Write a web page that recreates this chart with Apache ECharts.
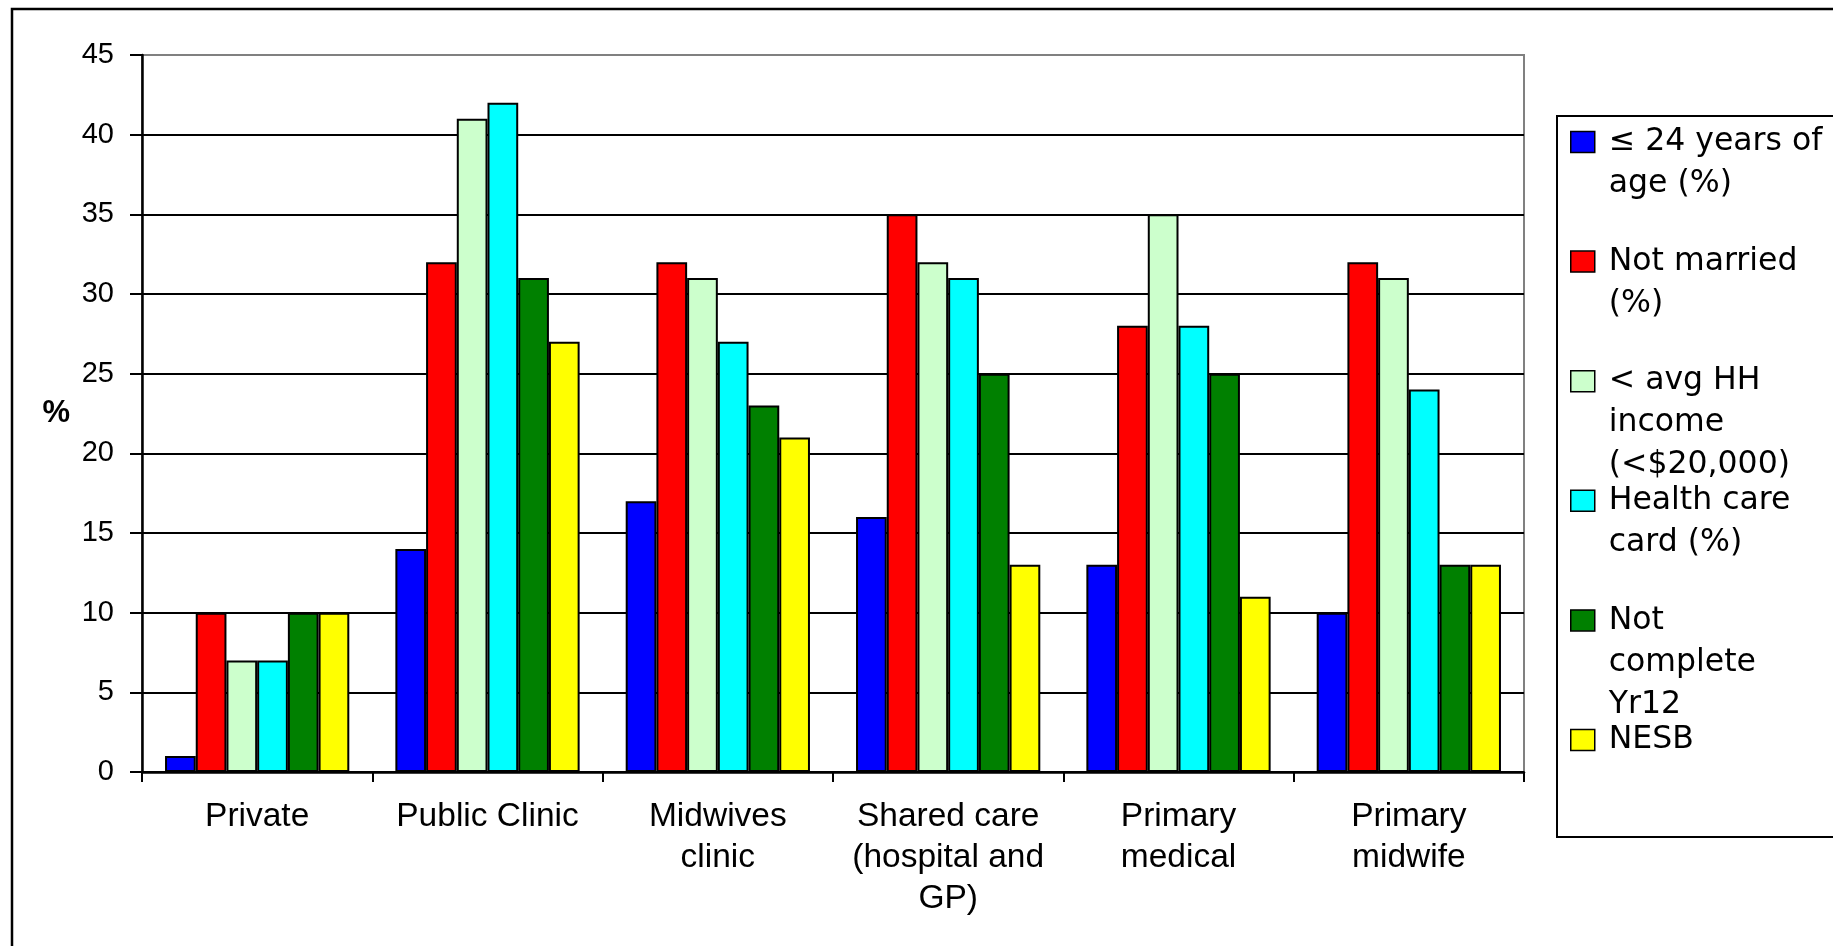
<!DOCTYPE html>
<html>
<head>
<meta charset="utf-8">
<script src="https://cdn.jsdelivr.net/npm/echarts@6/dist/echarts.min.js"></script>
<style>
  html, body { margin: 0; padding: 0; background: #ffffff; }
  #chart { width: 1833px; height: 946px; }
</style>
</head>
<body>
<div id="chart"></div>
<script>
// Model of care categories (tick labels, wrapped as printed)
const categories = ['Private', 'Public Clinic', 'Midwives\nclinic', 'Shared care\n(hospital and\nGP)', 'Primary\nmedical', 'Primary\nmidwife'];

// Series names and their wrapped legend text
const seriesNames = ['≤ 24 years of age (%)', 'Not married (%)', '< avg HH income (<$20,000)', 'Health care card (%)', 'Not complete Yr12', 'NESB'];
const legendLines = [
  ['≤ 24 years of', 'age (%)'],
  ['Not married', '(%)'],
  ['< avg HH', 'income', '(<$20,000)'],
  ['Health care', 'card (%)'],
  ['Not', 'complete', 'Yr12'],
  ['NESB']
];
const seriesColors = ['#0000ff', '#ff0000', '#ccffcc', '#00ffff', '#008000', '#ffff00'];

// Percentages per category, one array per series
const youngAge   = [1, 14, 17, 16, 13, 10];
const notMarried = [10, 32, 32, 35, 28, 32];
const lowIncome  = [7, 41, 31, 32, 35, 31];
const healthCard = [7, 42, 27, 31, 28, 24];
const noYear12   = [10, 31, 23, 25, 25, 13];
const nesb       = [10, 27, 21, 13, 11, 13];

// Value axis ticks
const yMin = 0;
const yMax = 45;
const yStep = 5;

const seriesData = [youngAge, notMarried, lowIncome, healthCard, noYear12, nesb];

const FONT = '"Liberation Sans", Arial, Helvetica, sans-serif';
const LEGEND_FONT = '"DejaVu Sans", "Liberation Sans", Arial, sans-serif';
const LINE_H = 42;          // legend line height
const FIRST_MARK = 142;     // centre of the first legend swatch
const MARK_STEP = 119.6;    // distance between legend swatches

const chart = echarts.init(document.getElementById('chart'), null, { renderer: 'canvas' });

// One legend block per series so every swatch sits on a fixed pitch.
// Legend text is centred on its swatch, so blank lines are put in front
// of the wrapped text to bring the first line level with the swatch.
const legends = seriesNames.map((name, i) => {
  const n = legendLines[i].length;
  const centre = FIRST_MARK + MARK_STEP * i;
  const label = '\n'.repeat(n - 1) + legendLines[i].join('\n');
  return {
    data: [name],
    left: 1570,
    top: centre - (2 * n - 1) * LINE_H / 2,
    orient: 'vertical',
    padding: 0,
    itemGap: 0,
    itemWidth: 24,
    itemHeight: 21,
    icon: 'rect',
    selectedMode: false,
    itemStyle: { borderColor: '#000', borderWidth: 1.5 },
    formatter: () => label,
    textStyle: {
      fontFamily: LEGEND_FONT,
      fontSize: 31.5,
      lineHeight: LINE_H,
      color: '#000',
      padding: [0, 0, 0, 9]
    }
  };
});

const option = {
  animation: false,
  backgroundColor: '#ffffff',
  color: seriesColors,
  graphic: [
    { // outer frame of the chart
      type: 'rect', z: -10, silent: true,
      shape: { x: 12, y: 9, width: 1900, height: 1000 },
      style: { fill: 'none', stroke: '#000', lineWidth: 2.5 }
    },
    { // legend frame
      type: 'rect', z: -5, silent: true,
      shape: { x: 1557, y: 116, width: 400, height: 721 },
      style: { fill: '#fff', stroke: '#000', lineWidth: 2 }
    }
  ],
  legend: legends,
  grid: {
    left: 142, top: 55, right: 309, bottom: 174,
    show: true, borderColor: '#808080', borderWidth: 2,
    backgroundColor: 'transparent'
  },
  xAxis: {
    type: 'category',
    data: categories,
    axisLine: { lineStyle: { color: '#000', width: 2.5 } },
    axisTick: { show: true, length: 10, lineStyle: { color: '#000', width: 2 } },
    axisLabel: { interval: 0, fontFamily: FONT, fontSize: 33.5, lineHeight: 41, margin: 24, color: '#000' },
    splitLine: { show: false }
  },
  yAxis: {
    type: 'value',
    min: yMin, max: yMax, interval: yStep,
    name: '%',
    nameLocation: 'middle',
    nameRotate: 0,
    nameGap: 72,
    nameTextStyle: { fontFamily: FONT, fontSize: 31, fontWeight: 'bold', color: '#000' },
    axisLine: { show: true, lineStyle: { color: '#000', width: 2.5 } },
    axisTick: { show: true, length: 12, lineStyle: { color: '#000', width: 2 } },
    axisLabel: { fontFamily: FONT, fontSize: 29, margin: 28, color: '#000' },
    splitLine: { show: true, showMaxLine: false, lineStyle: { color: '#000', width: 2 } }
  },
  series: seriesNames.map((name, i) => ({
    name: name,
    type: 'bar',
    data: seriesData[i],
    barGap: '0%',
    barCategoryGap: '20%',
    itemStyle: { color: seriesColors[i], borderColor: '#000', borderWidth: 2 },
    emphasis: { disabled: true }
  }))
};

chart.setOption(option);
</script>
</body>
</html>
